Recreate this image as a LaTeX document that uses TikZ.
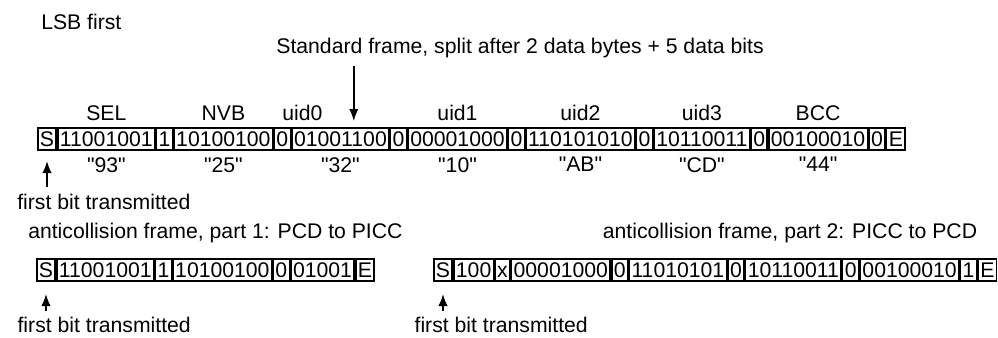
\documentclass[tikz,border=0pt]{standalone}
\usepackage{fontspec}
\setmainfont{Liberation Sans}
\usetikzlibrary{arrows.meta,positioning,calc}

\begin{document}
\begin{tikzpicture}[
    x=0.75pt, y=-0.75pt,
    node distance=0pt,
    every node/.style={font=\fontsize{15.9}{18}\selectfont},
    bit/.style={draw, line width=1.2pt, inner xsep=1.6pt, inner ysep=2.7pt, text height=11.4pt, text depth=0pt},
    field/.style={inner sep=0pt},
    note/.style={inner sep=0pt},
    pointer/.style={-{Latex[length=9pt,width=7pt]}, line width=1.2pt}
]
\useasboundingbox (0,0) rectangle (998,337);

% standard frame
\node[note, anchor=west] (lsb) at (41,22) {LSB first};
\node[note] (std) at (520,48) {Standard frame, split after 2 data bytes + 5 data bits};
\node[bit, anchor=north west] (start) at (37,127) {S};
\node[bit, right=of start] (sel) {11001001};
\node[bit, right=of sel] (b1) {1};
\node[bit, right=of b1] (nvb) {10100100};
\node[bit, right=of nvb] (b2) {0};
\node[bit, right=of b2] (uid0) {01001100};
\node[bit, right=of uid0] (b3) {0};
\node[bit, right=of b3] (uid1) {00001000};
\node[bit, right=of uid1] (b4) {0};
\node[bit, right=of b4] (uid2) {110101010};
\node[bit, right=of uid2] (b5) {0};
\node[bit, right=of b5] (uid3) {10110011};
\node[bit, right=of uid3] (b6) {0};
\node[bit, right=of b6] (bcc) {00100010};
\node[bit, right=of bcc] (b7) {0};
\node[bit, right=of b7] (stop) {E};

\node[field, above=4.5pt of sel] (sel-l) {SEL};
\node[field, above=4.5pt of nvb] (nvb-l) {NVB};
\node[field, above=4.5pt of uid0, xshift=-28.5pt] (uid0-l) {uid0};
\node[field, above=4.5pt of uid1] (uid1-l) {uid1};
\node[field, above=4.5pt of uid2] (uid2-l) {uid2};
\node[field, above=4.5pt of uid3] (uid3-l) {uid3};
\node[field, above=4.5pt of bcc] (bcc-l) {BCC};
\node[field, below=4.5pt of sel] (sel-v) {\textquotedbl 93\textquotedbl};
\node[field, below=4.5pt of nvb] (nvb-v) {\textquotedbl 25\textquotedbl};
\node[field, below=4.5pt of uid0] (uid0-v) {\textquotedbl 32\textquotedbl};
\node[field, below=4.5pt of uid1] (uid1-v) {\textquotedbl 10\textquotedbl};
\node[field, below=4.5pt of uid2] (uid2-v) {\textquotedbl AB\textquotedbl};
\node[field, below=4.5pt of uid3] (uid3-v) {\textquotedbl CD\textquotedbl};
\node[field, below=4.5pt of bcc] (bcc-v) {\textquotedbl 44\textquotedbl};

\node[note, below=32pt of start.south west, anchor=north west, xshift=-15pt] (first) {first bit transmitted};
\coordinate (split) at ([xshift=47pt]uid0.north west);
\draw[pointer] ($(split |- std.south)+(0,-6pt)$) -- ($(split)+(0,4.5pt)$);
\draw[pointer] ($(start.south |- first.north)+(0,5pt)$) -- ($(start.south)+(0,-7.5pt)$);

% anticollision frame, part 1
\node[bit, anchor=north west] (start1) at (36,258) {S};
\node[bit, right=of start1] (sel1) {11001001};
\node[bit, right=of sel1] (b11) {1};
\node[bit, right=of b11] (nvb1) {10100100};
\node[bit, right=of nvb1] (b21) {0};
\node[bit, right=of b21] (uid01) {01001};
\node[bit, right=of uid01] (stop1) {E};
\node[note, above=15pt of start1.north west, anchor=base west, xshift=-6pt] (part1) {anticollision frame, part 1: PCD to PICC};
\node[note, below=26pt of start1.south west, anchor=north west, xshift=-14pt] (first1) {first bit transmitted};
\draw[pointer] ($(start1.south |- first1.north)+(0,4.5pt)$) -- ($(start1.south)+(0,-9pt)$);

% anticollision frame, part 2
\node[bit, anchor=north west] (start2) at (433,258) {S};
\node[bit, right=of start2] (uid02) {100};
\node[bit, right=of uid02] (coll) {x};
\node[bit, right=of coll] (uid12) {00001000};
\node[bit, right=of uid12] (c1) {0};
\node[bit, right=of c1] (uid22) {11010101};
\node[bit, right=of uid22] (c2) {0};
\node[bit, right=of c2] (uid32) {10110011};
\node[bit, right=of uid32] (c3) {0};
\node[bit, right=of c3] (bcc2) {00100010};
\node[bit, right=of bcc2] (c4) {1};
\node[bit, right=of c4] (stop2) {E};
\node[note, above=15pt of stop2.north east, anchor=base east, xshift=-15pt] (part2) {anticollision frame, part 2: PICC to PCD};
\node[note, below=26pt of start2.south west, anchor=north west, xshift=-14pt] (first2) {first bit transmitted};
\draw[pointer] ($(start2.south |- first2.north)+(0,4.5pt)$) -- ($(start2.south)+(0,-9pt)$);
\end{tikzpicture}
\end{document}
